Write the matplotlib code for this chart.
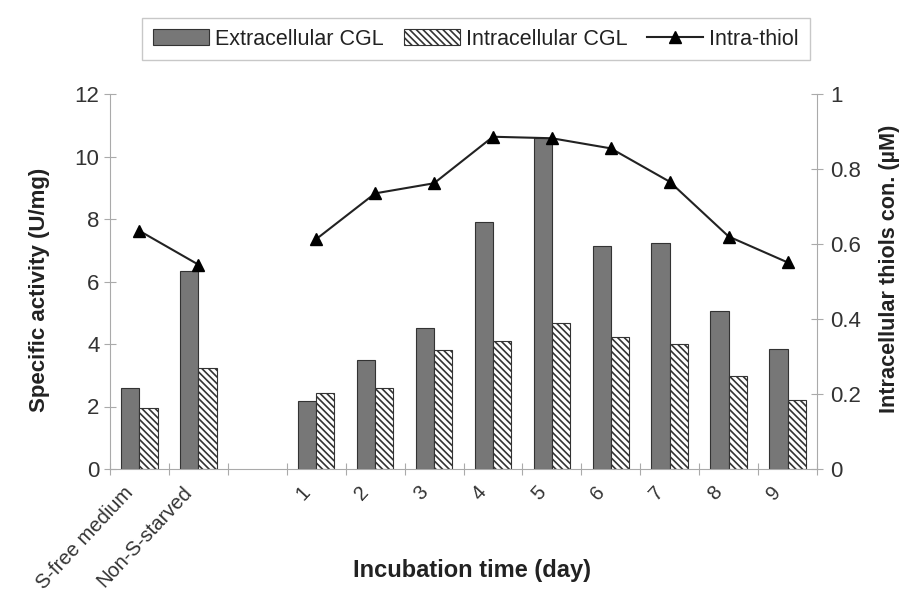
import numpy as np
import matplotlib
matplotlib.use("Agg")
import matplotlib.pyplot as plt

plt.rcParams['font.family'] = ['Liberation Sans', 'DejaVu Sans']
plt.rcParams['hatch.linewidth'] = 1.2

categories = ["S-free medium", "Non-S-starved", "", "1", "2", "3", "4", "5", "6", "7", "8", "9"]
extracellular = [2.6, 6.35, np.nan, 2.18, 3.5, 4.5, 7.9, 10.6, 7.14, 7.24, 5.07, 3.83]
intracellular = [1.95, 3.23, np.nan, 2.43, 2.59, 3.8, 4.1, 4.66, 4.21, 4.0, 2.98, 2.21]
thiol = [0.635, 0.545, np.nan, 0.613, 0.735, 0.762, 0.886, 0.882, 0.855, 0.766, 0.62, 0.551]
left_ticks = [0, 2, 4, 6, 8, 10, 12]
right_ticks = [0, 0.2, 0.4, 0.6, 0.8, 1]
right_labels = ["0", "0.2", "0.4", "0.6", "0.8", "1"]

fig = plt.figure(figsize=(9, 5.96), dpi=100)
ax = fig.add_axes([110/900, 1-469/596, 707/900, 375/596])
ax2 = ax.twinx()

x = np.arange(len(categories)) + 0.5
w = 0.31
axcol = '#aaaaaa'
txtcol = '#333333'

b1 = ax.bar(x - w/2, extracellular, w, color='#777777', edgecolor='#333333', linewidth=0.8,
            label='Extracellular CGL')
b2 = ax.bar(x + w/2, intracellular, w, color='white', edgecolor='#333333', linewidth=0.8,
            hatch='\\\\\\\\\\', label='Intracellular CGL')
l1, = ax2.plot(x, thiol, color='#222222', lw=1.5, marker='^', ms=8.5, mfc='black', mec='black',
               label='Intra-thiol')

ax.set_xlim(0, len(categories))
ax.set_ylim(0, 12)
ax2.set_ylim(0, 1)
ax.set_yticks(left_ticks)
ax.set_yticklabels([str(t) for t in left_ticks])
ax2.set_yticks(right_ticks)
ax2.set_yticklabels(right_labels)

ax.set_xticks(np.arange(len(categories) + 1))
ax.set_xticklabels([])
# category labels sit a little left of the slot centres, as in the reference
ax.set_xticks(x - 0.28, minor=True)
ax.set_xticklabels(categories, minor=True, rotation=47, ha='right', rotation_mode='anchor')
ax.tick_params(axis='x', which='minor', length=0, pad=10, labelsize=14.5, labelcolor=txtcol)
ax.tick_params(axis='x', which='major', direction='inout', length=8, color=axcol)

for a in (ax, ax2):
    for s in a.spines.values():
        s.set_visible(False)
ax.spines['left'].set_visible(True)
ax.spines['left'].set_color(axcol)
ax.spines['bottom'].set_visible(True)
ax.spines['bottom'].set_color(axcol)
ax2.spines['right'].set_visible(True)
ax2.spines['right'].set_color(axcol)

ax.tick_params(axis='y', direction='inout', length=9, color=axcol, labelsize=16, labelcolor=txtcol, pad=3)
ax2.tick_params(axis='y', direction='inout', length=9, color=axcol, labelsize=16, labelcolor=txtcol, pad=5)

ax.set_ylabel('Specific activity (U/mg)', fontsize=16, fontweight='bold', color='#222222')
ax.yaxis.set_label_coords(-0.085, 0.477)
ax2.set_ylabel('Intracellular thiols con. (µM)', fontsize=15.6, fontweight='bold', color='#222222')
ax2.yaxis.set_label_coords(1.088, 0.533)
ax.set_xlabel('Incubation time (day)', fontsize=17, fontweight='bold', color='#222222')
ax.xaxis.set_label_coords((472-110)/707, -(571-469)/375)
ax.xaxis.label.set_va('center')

leg = fig.legend([b1, b2, l1], ['Extracellular CGL', 'Intracellular CGL', 'Intra-thiol'],
                 loc='upper center', bbox_to_anchor=(476/900, 1-7/596), ncol=3, frameon=True,
                 fancybox=False, edgecolor='#bbbbbb', fontsize=15.5, handlelength=2.6,
                 handletextpad=0.3, columnspacing=0.9, borderpad=0.5)
for t in leg.get_texts():
    t.set_color('#222222')

fig.savefig('out.png', dpi=100)
